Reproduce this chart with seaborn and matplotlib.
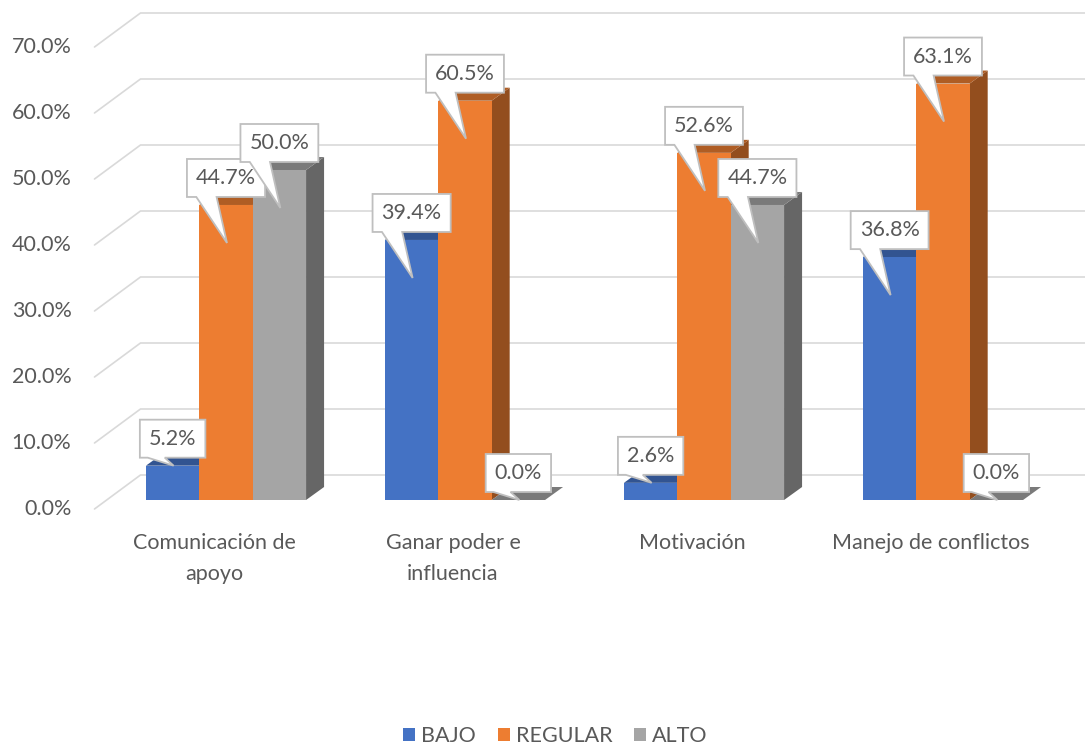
import matplotlib
matplotlib.use("Agg")
import matplotlib.pyplot as plt
from matplotlib.patches import Polygon
import numpy as np
import pandas as pd
import seaborn as sns

CATEGORIAS = ["Comunicación de apoyo", "Ganar poder e influencia", "Motivación", "Manejo de conflictos"]
ETIQUETAS_X = ["Comunicación de\napoyo", "Ganar poder e\ninfluencia", "Motivación", "Manejo de conflictos"]
NIVELES = ["BAJO", "REGULAR", "ALTO"]
BAJO = [5.2, 39.4, 2.6, 36.8]
REGULAR = [44.7, 60.5, 52.6, 63.1]
ALTO = [50.0, 0.0, 44.7, 0.0]
Y_TICKS = [0, 10, 20, 30, 40, 50, 60, 70]
COLORES = ["#4472C4", "#ED7D31", "#A5A5A5"]

W, H = 1085, 744
DEPTH = np.array([18, 13])     # bar depth, px (right, up)
FRONT = np.array([-12, -9])    # front plane vs bar plane, px
BACK = np.array([34, 25])      # back wall vs bar plane, px
TXT = "#595959"
GRID = "#D9D9D9"
FS = 15.5

sns.set_style("white")
plt.rcParams["font.family"] = ["Lato", "DejaVu Sans"]

df = pd.DataFrame({
    "categoria": CATEGORIAS * len(NIVELES),
    "nivel": [n for n in NIVELES for _ in CATEGORIAS],
    "valor": BAJO + REGULAR + ALTO,
})

fig = plt.figure(figsize=(W / 100, H / 100), dpi=100)
ax = fig.add_axes([106.5 / W, 244 / H, 956 / W, 462 / H])
sns.barplot(data=df, x="categoria", y="valor", hue="nivel", order=CATEGORIAS,
            hue_order=NIVELES, palette=COLORES, width=0.67, saturation=1,
            errorbar=None, linewidth=0, ax=ax)
ax.set_xlim(-0.5, 3.5)
ax.set_ylim(0, 70)
ax.axis("off")


def to_px(x, y):
    return ax.transData.transform((x, y))


def to_data(pts):
    return ax.transData.inverted().transform(np.atleast_2d(pts))


def shade(c, f):
    r, g, b = matplotlib.colors.to_rgb(c)
    return (r * f, g * f, b * f)


# back wall + side wall gridlines
for v in Y_TICKS:
    pts = np.array([to_px(-0.5, v) + FRONT, to_px(-0.5, v) + BACK, to_px(3.5, v) + BACK])
    d = to_data(pts)
    ax.plot(d[:, 0], d[:, 1], color=GRID, lw=1.2, clip_on=False, zorder=1)
    tx, ty = to_data(to_px(-0.5, v) + FRONT + np.array([-23, 0]))[0]
    ax.text(tx, ty, f"{v:.1f}%", ha="right", va="center", fontsize=FS, color=TXT)

# category labels
for i, lab in enumerate(ETIQUETAS_X):
    tx, ty = to_data(to_px(i, 0) + FRONT + np.array([0, -24]))[0]
    ax.text(tx, ty, lab, ha="center", va="top", fontsize=FS, color=TXT, linespacing=1.7)

# 3d faces + callouts
renderer = fig.canvas.get_renderer()
for j, cont in enumerate(ax.containers):
    col = COLORES[j]
    for i, bar in enumerate(cont.patches):
        k = i * 3 + j
        z = 2 + k * 0.01
        x0, w, h = bar.get_x(), bar.get_width(), bar.get_height()
        fl, fr, br = to_px(x0, h), to_px(x0 + w, h), to_px(x0 + w, 0)
        top = to_data([fl, fr, fr + DEPTH, fl + DEPTH])
        side = to_data([br, fr, fr + DEPTH, br + DEPTH])
        ax.add_patch(Polygon(side, closed=True, fc=shade(col, 0.62), ec="none", zorder=z, clip_on=False))
        ax.add_patch(Polygon(top, closed=True, fc=shade(col, 0.74), ec="none", zorder=z + 0.001, clip_on=False))
        bar.set_zorder(z + 0.002)
        bar.set_clip_on(False)

        # callout label
        X, Y = to_px(x0 + w / 2, h)
        t = ax.text(0, 0, f"{h:.1f}%", ha="center", va="center", fontsize=FS, color=TXT)
        bw = t.get_window_extent(renderer).width + 18
        L, R = X - bw / 2, X + bw / 2
        B = Y + 8
        T = B + 38
        drop = 38 if (Y - to_px(0, 0)[1]) > 40 else 0
        tip = (X + 1, Y - drop)
        pts = [(L, T), (R, T), (R, B), (L + 0.38 * bw, B), tip, (L + 0.12 * bw, B), (L, B)]
        ax.add_patch(Polygon(to_data(pts), closed=True, fc="white", ec="#BFBFBF", lw=1.3,
                             joinstyle="miter", zorder=10 + k * 0.01, clip_on=False))
        tx, ty = to_data((X, (B + T) / 2))[0]
        t.set_position((tx, ty))
        t.set_zorder(10 + k * 0.01 + 0.005)

sns.move_legend(ax, "center", bbox_to_anchor=(0.512, 8 / H), bbox_transform=fig.transFigure,
                ncol=3, frameon=False, title=None, fontsize=FS, handlelength=0.55,
                handleheight=0.55, handletextpad=0.3, columnspacing=1.0, labelcolor=TXT)

fig.savefig("out.png", dpi=100)
